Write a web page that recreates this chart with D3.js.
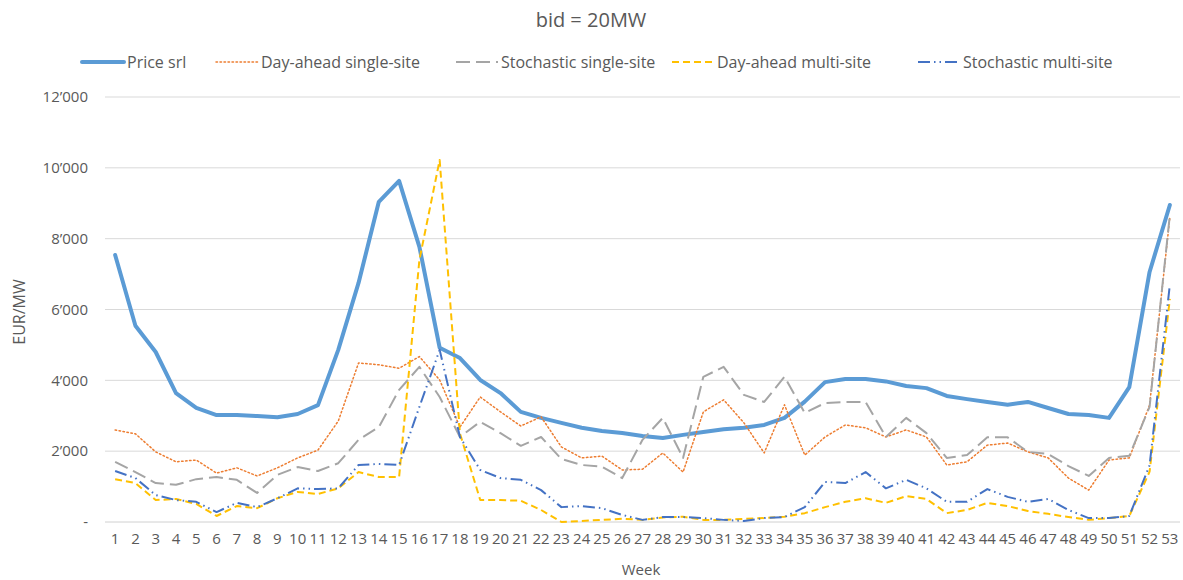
<!DOCTYPE html>
<html><head><meta charset="utf-8">
<script src="https://cdn.jsdelivr.net/npm/d3@7"></script>
<style>
body{margin:0;background:#fff;}
text{font-family:"Open Sans",sans-serif;fill:#595959;}
</style></head>
<body><svg id="c" width="1183" height="580"></svg>
<script>
const weeks = d3.range(1, 54);
const yTicks = [0, 2000, 4000, 6000, 8000, 10000, 12000];
const priceSrl = [7540,5540,4800,3640,3220,3020,3020,2990,2960,3050,3300,4860,6750,9040,9630,7770,4920,4630,4010,3640,3110,2940,2800,2660,2570,2510,2430,2370,2460,2540,2620,2660,2740,2940,3400,3950,4040,4040,3970,3840,3780,3560,3470,3390,3310,3390,3220,3050,3020,2940,3810,7060,8950];
const dayAheadSingle = [2600,2490,1980,1700,1750,1380,1530,1300,1530,1810,2030,2850,4490,4440,4340,4670,4010,2680,3530,3110,2710,2970,2120,1810,1860,1470,1490,1950,1410,3110,3450,2800,1950,3310,1890,2400,2740,2660,2400,2600,2400,1610,1700,2170,2230,1980,1810,1240,900,1750,1810,3300,8600];
const stochSingle = [1700,1410,1100,1050,1210,1270,1190,820,1330,1550,1440,1660,2320,2680,3730,4380,3530,2400,2830,2510,2150,2400,1780,1610,1560,1240,2320,2940,1810,4100,4380,3590,3390,4100,3080,3360,3390,3390,2400,2940,2510,1810,1890,2390,2390,1980,1920,1580,1300,1810,1870,3250,8670];
const dayAheadMulti = [1210,1100,620,650,510,170,450,390,670,850,790,950,1410,1270,1270,7400,10220,2500,620,620,600,340,0,30,60,90,60,130,150,60,60,90,110,150,250,420,570,670,540,730,650,250,340,540,450,310,230,140,60,110,170,1420,6300];
const stochMulti = [1440,1240,760,620,570,280,540,420,670,950,930,950,1610,1640,1610,3250,4860,2400,1470,1240,1190,900,420,450,390,200,60,140,140,110,60,30,110,140,420,1130,1100,1410,950,1190,950,570,570,930,710,570,650,340,110,110,170,1600,6700];

const seriesNames = ["Price srl","Day-ahead single-site","Stochastic single-site","Day-ahead multi-site","Stochastic multi-site"];
const seriesData = [priceSrl, dayAheadSingle, stochSingle, dayAheadMulti, stochMulti];
const styles = [
  {color:"#5B9BD5", w:4, dash:null, cap:"round"},
  {color:"#ED7D31", w:1.5, dash:"1.5,2.5", cap:"round"},
  {color:"#A5A5A5", w:2, dash:"14,6", cap:"butt"},
  {color:"#FFC000", w:2, dash:"7,4", cap:"butt"},
  {color:"#4472C4", w:2, dash:"12,4,1.5,4,1.5,4", cap:"butt"}
];

const svg = d3.select("#c");
const mLeft = 105, mRight = 1180, mTop = 97, mBottom = 522;
const x = d3.scaleBand().domain(weeks).range([mLeft, mRight]);
const y = d3.scaleLinear().domain([0, 12000]).range([mBottom, mTop]);
const fontFam = '"Open Sans",sans-serif';

svg.append("g").selectAll("line").data(yTicks).join("line")
  .attr("x1", mLeft).attr("x2", mRight)
  .attr("y1", d => y(d)).attr("y2", d => y(d))
  .attr("stroke", d => d === 0 ? "#d0d0d0" : "#d9d9d9").attr("stroke-width", 1);

const fmt = d => d === 0 ? "-" : d3.format(",")(d).replace(/,/g, "\u2019");
const yAxis = d3.axisLeft(y).tickValues(yTicks).tickFormat(fmt).tickSize(0).tickPadding(0);
const ya = svg.append("g").attr("transform", `translate(${mLeft-17},0)`).call(yAxis);
ya.select(".domain").remove();
ya.selectAll("text").attr("font-size", 15).attr("fill", "#595959").style("font-family", fontFam);

const xAxis = d3.axisBottom(x).tickSize(0).tickPadding(0);
const xa = svg.append("g").attr("transform", `translate(0,${mBottom+11})`).call(xAxis);
xa.select(".domain").remove();
xa.selectAll("text").attr("font-size", 15).attr("fill", "#595959").style("font-family", fontFam);

const line = d3.line().x((d, i) => x(weeks[i]) + x.bandwidth()/2).y(d => y(d));
seriesData.forEach((s, k) => {
  const st = styles[k];
  svg.append("path").datum(s).attr("d", line)
    .attr("fill", "none").attr("stroke", st.color).attr("stroke-width", st.w)
    .attr("stroke-dasharray", st.dash).attr("stroke-linecap", st.cap)
    .attr("stroke-linejoin", "round");
});

svg.append("text").attr("x", 591).attr("y", 27).attr("text-anchor", "middle")
  .attr("font-size", 20).text("bid = 20MW");

const legX = [82, 216, 456, 672, 918];
seriesNames.forEach((n, k) => {
  const st = styles[k];
  const g = svg.append("g").attr("transform", `translate(${legX[k]},62)`);
  g.append("line").attr("x1", 0).attr("x2", 42).attr("y1", 0).attr("y2", 0)
    .attr("stroke", st.color).attr("stroke-width", st.w).attr("stroke-dasharray", st.dash)
    .attr("stroke-linecap", st.cap);
  g.append("text").attr("x", 45).attr("y", 5.5).attr("font-size", 16).text(n);
});

svg.append("text").attr("transform", "translate(25,312) rotate(-90)")
  .attr("text-anchor", "middle").attr("font-size", 16).text("EUR/MW");
svg.append("text").attr("x", 641).attr("y", 575).attr("text-anchor", "middle")
  .attr("font-size", 15).text("Week");
</script></body></html>
